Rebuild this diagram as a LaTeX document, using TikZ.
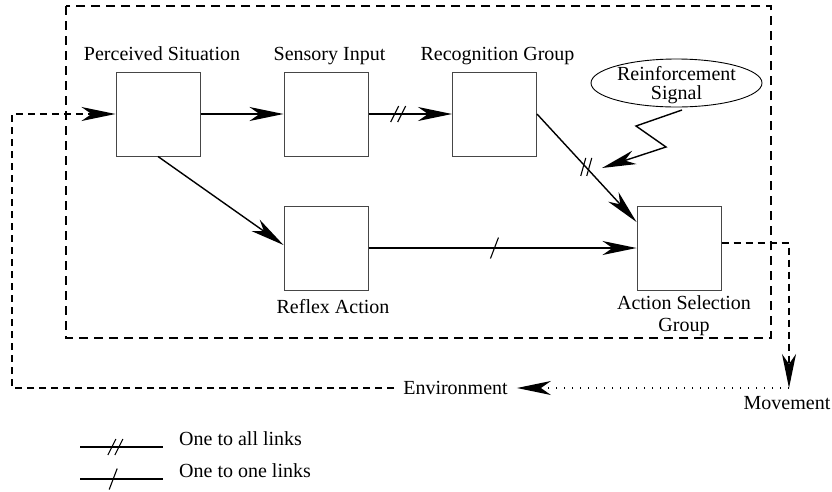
\documentclass[tikz,border=0pt]{standalone}
\usepackage{fontspec}
\setmainfont{Liberation Serif}
\usetikzlibrary{arrows.meta,shapes.geometric,decorations.markings}

\begin{document}
\begin{tikzpicture}[x=1pt,y=-1pt,
  >={Stealth[length=34pt,width=14pt,inset=10pt]},
  font=\fontsize{20}{22}\selectfont,
  unit/.style={draw=gray!55!black,line width=1pt,minimum width=84pt,
    minimum height=84pt,inner sep=0pt},
  caption/.style={anchor=base,inner sep=0pt},
  link/.style={line width=1.4pt,->},
  frame/.style={line width=1.4pt,dash pattern=on 9pt off 6pt},
  loop/.style={line width=1.4pt,dash pattern=on 7pt off 5pt},
  trail/.style={line width=1.4pt,dash pattern=on 1.5pt off 6.5pt},
  % tick marks that tell one-to-all from one-to-one links
  allmark/.style={postaction={decorate},decoration={markings,
    mark=at position #1 with {\pgftransformresetnontranslations
      \draw[line width=1.1pt,-] (-7,8) -- (1,-8) (0,8) -- (8,-8);}}},
  allmarksteep/.style={postaction={decorate},decoration={markings,
    mark=at position #1 with {\pgftransformresetnontranslations
      \draw[line width=1.1pt,-] (-5,9) -- (0,-9) (1,9) -- (6,-9);}}},
  onemark/.style={postaction={decorate},decoration={markings,
    mark=at position #1 with {\pgftransformresetnontranslations
      \draw[line width=1.1pt,-] (-4,10.5) -- (4,-10.5);}}}
]
\useasboundingbox (0,0) rectangle (832,491);

% agent boundary
\draw[frame] (66,6) rectangle (771,338);

% processing units
\node[unit] (ps)  at (158,114) {};
\node[unit] (si)  at (326,114) {};
\node[unit] (rg)  at (494.5,114) {};
\node[unit] (rx)  at (326,248) {};
\node[unit] (asg) at (679,248) {};

\node[caption] (psl) at (162,60) {Perceived Situation};
\node[caption] (sil) at (329.5,60) {Sensory Input};
\node[caption] (rgl) at (497.5,60) {Recognition Group};
\node[caption] (rxl) at (333,313) {Reflex Action};
\node[anchor=north,inner sep=0pt,align=center,
      font=\fontsize{20}{22}\selectfont] (asgl) at (684,295.5)
      {Action Selection\\Group};

% reinforcement signal
\node[draw,ellipse,line width=0.9pt,minimum width=171pt,minimum height=48pt,
      inner sep=0pt,align=center,text depth=0pt,
      font=\fontsize{20}{18.5}\selectfont] (rs) at (676.5,83)
      {Reinforcement\\Signal};
\coordinate (rsfoot) at (682,110);
\draw[link] (rsfoot) -- ++(-46,16) -- ++(30,21) -- ++(-64,21);

% internal links
\draw[link] (ps.east) -- (si.west);
\draw[link,allmark=0.35] (si.east) -- (rg.west);
\draw[link,allmarksteep=0.49] (rg.east) -- ([yshift=26pt]asg.west);
\draw[link] (ps.south) -- ([yshift=3pt]rx.west);
\draw[link,onemark=0.47] (rx.east) -- (asg.west);

% loop through the environment
\coordinate (mv) at (789,388);
\node[caption] (mvl) at (787,409) {Movement};
\node[anchor=base,inner ysep=0pt,inner xsep=9pt] (env) at (455.5,394) {Environment};
\draw[loop,->] ([yshift=5pt]asg.east) -| (mv);
\draw[trail,->] (mv) -- (env.east |- mv);
\draw[loop,->] (env.west |- mv) -- (12,388) |- (ps.west);

% legend
\coordinate (la1) at (80,447);
\coordinate (lb1) at (163,447);
\coordinate (la2) at (80,479);
\coordinate (lb2) at (163,479);
\draw[line width=1.4pt,allmark=0.42] (la1) -- (lb1);
\draw[line width=1.4pt,onemark=0.4] (la2) -- (lb2);
\node[anchor=base west,inner sep=0pt] (lt1) at (179,445) {One to all links};
\node[anchor=base west,inner sep=0pt] (lt2) at (179,477) {One to one links};
\end{tikzpicture}
\end{document}
